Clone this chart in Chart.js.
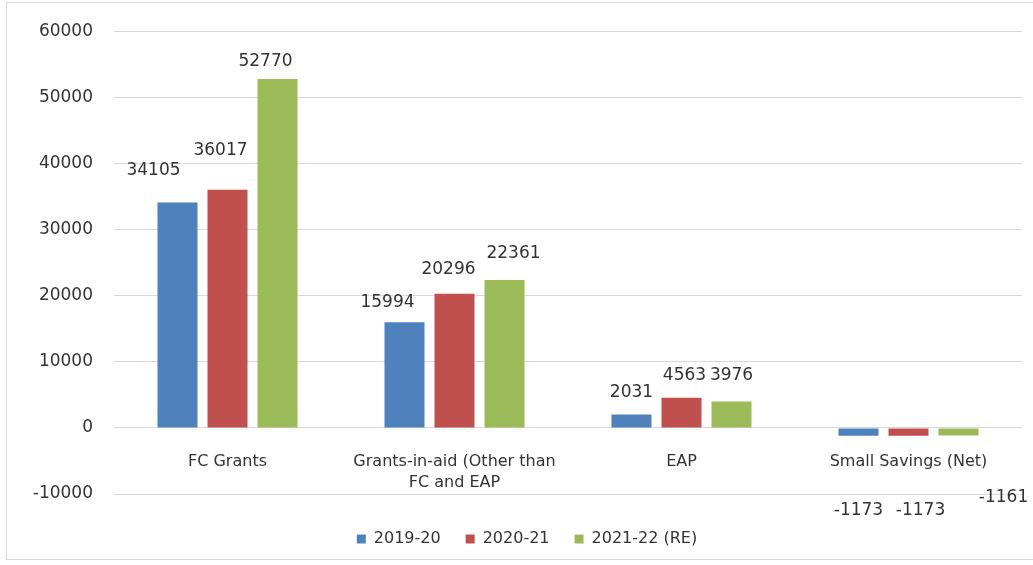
<!DOCTYPE html>
<html>
<head>
<meta charset="utf-8">
<script src="https://cdn.jsdelivr.net/npm/chart.js@4/dist/chart.umd.min.js"></script>
<style>
  html, body { margin: 0; padding: 0; background: #fff; }
  .frame {
    position: absolute; left: 6px; top: 2px; width: 1040px; height: 558px;
    border: 1px solid #d9d9d9; box-sizing: border-box;
  }
  .chart-box { position: absolute; left: 0; top: 0; width: 1033px; height: 565px; }
</style>
</head>
<body>
<div class="frame"></div>
<div class="chart-box">
  <canvas id="bar_chart" width="1033" height="565"></canvas>
</div>
<script>
const categories = [
  "FC Grants",
  ["Grants-in-aid (Other than", "FC and EAP"],
  "EAP",
  "Small Savings (Net)",
];
const seriesNames = ["2019-20", "2020-21", "2021-22 (RE)"];
const values2019 = [34105, 15994, 2031, -1173];
const values2020 = [36017, 20296, 4563, -1173];
const values2021 = [52770, 22361, 3976, -1161];
const yTicks = { min: -10000, max: 60000, step: 10000 };

const colors = ["#4f81bd", "#c0504d", "#9bbb59"];
const textColor = "#333333";
const fontFamily = "'DejaVu Sans', sans-serif";

// hand-placed nudges for value labels, [dx, dy] per bar
const labelNudges = [
  [[-24, -10], [-17, 2], [0, 0], [0, 53]],
  [[-7, -17], [-6, -2], [3, 0], [12, 53]],
  [[-12, 5], [9, -4], [0, -4], [45, 40]],
];

const valueLabels = {
  id: "valueLabels",
  afterDatasetsDraw(chart) {
    const ctx = chart.ctx;
    ctx.save();
    ctx.font = "17px " + fontFamily;
    ctx.fillStyle = textColor;
    ctx.textAlign = "center";
    ctx.textBaseline = "middle";
    chart.data.datasets.forEach((ds, di) => {
      const meta = chart.getDatasetMeta(di);
      meta.data.forEach((bar, i) => {
        const v = ds.data[i];
        const nudge = labelNudges[di][i];
        const y = v >= 0 ? bar.y - 22 : bar.y + 22;
        ctx.fillText(String(v), bar.x + nudge[0], y + nudge[1]);
      });
    });
    ctx.restore();
  },
};

const ctx = document.getElementById("bar_chart").getContext("2d");
const datasets = [values2019, values2020, values2021].map((d, i) => ({
  label: seriesNames[i],
  data: d,
  backgroundColor: colors[i],
  borderWidth: 0,
  categoryPercentage: 0.661,
  barPercentage: 0.8,
}));

new Chart(ctx, {
  type: "bar",
  data: { labels: categories, datasets: datasets },
  options: {
    responsive: false,
    animation: false,
    layout: { padding: { left: 32, right: 11, top: 27, bottom: 8 } },
    plugins: {
      tooltip: { enabled: false },
      legend: {
        position: "bottom",
        // empty title only pushes the legend row down
        title: { display: true, text: "", padding: 0, font: { size: 10 } },
        labels: {
          boxWidth: 9,
          boxHeight: 9,
          padding: 25,
          color: textColor,
          font: { family: fontFamily, size: 16 },
        },
      },
    },
    scales: {
      x: {
        position: { y: 0 },
        grid: { display: false, drawTicks: false },
        border: { display: false },
        ticks: {
          color: textColor,
          padding: 24,
          maxRotation: 0,
          font: { family: fontFamily, size: 16, lineHeight: 1.3 },
        },
      },
      y: {
        min: yTicks.min,
        max: yTicks.max,
        grid: { color: "#d9d9d9", drawTicks: false },
        border: { display: false },
        ticks: {
          stepSize: yTicks.step,
          color: textColor,
          padding: 21,
          font: { family: fontFamily, size: 17 },
          callback: (v) => String(v),
        },
        afterFit: (scale) => {
          scale.width = 82;
        },
      },
    },
  },
  plugins: [valueLabels],
});
</script>
</body>
</html>
